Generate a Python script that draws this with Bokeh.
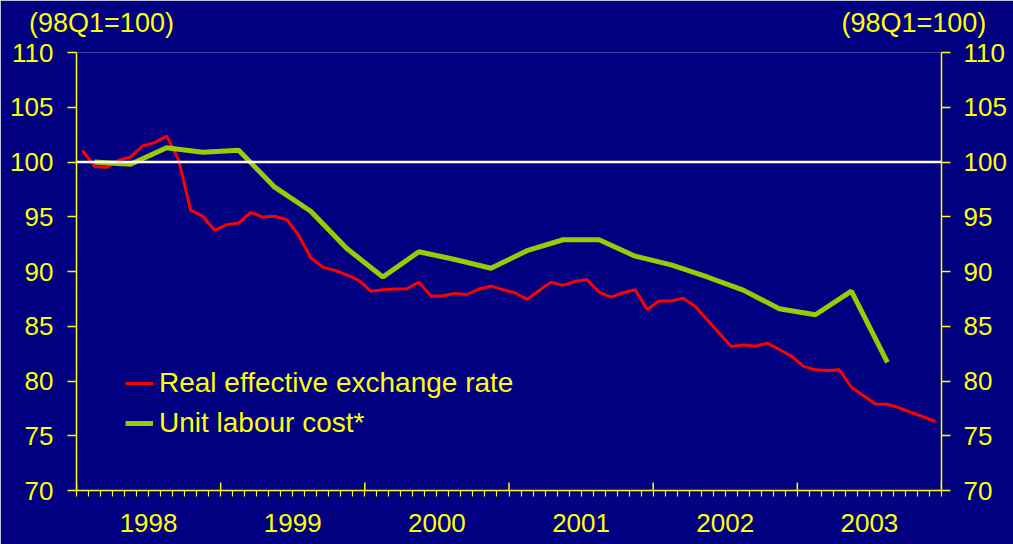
from bokeh.plotting import figure
from bokeh.models import (LinearAxis, FixedTicker, Range1d, Span, Legend,
                          LegendItem, ColumnDataSource, CustomJSTickFormatter)
from bokeh.embed import file_html
from bokeh.resources import INLINE

# ---------------- data ----------------
years = ["1998", "1999", "2000", "2001", "2002", "2003"]
y_ticks = [70, 75, 80, 85, 90, 95, 100, 105, 110]
unit_label = "(98Q1=100)"

# monthly, Jan 1998 .. Dec 2003 (98Q1 = 100)
reer = [101.07, 99.6, 99.5, 100.15, 100.46, 101.46, 101.77, 102.38, 100.2, 95.6, 95.07, 93.76,
        94.28, 94.42, 95.4, 94.97, 95.04, 94.73, 93.3, 91.26, 90.4, 90.1, 89.7, 89.19,
        88.2, 88.33, 88.4, 88.42, 89.03, 87.75, 87.78, 88.0, 87.9, 88.4, 88.67, 88.34,
        88.06, 87.45, 88.27, 89.03, 88.73, 89.1, 89.25, 88.12, 87.66, 88.06, 88.33, 86.53,
        87.3, 87.3, 87.57, 86.8, 85.6, 84.37, 83.15, 83.3, 83.18, 83.46, 82.88, 82.27,
        81.36, 81.02, 80.96, 81.02, 79.43, 78.67, 77.9, 77.88, 77.55, 77.12, 76.73, 76.3]

# quarterly, 1998Q1 .. 2003Q3
ulc = [100.0, 99.8, 101.3, 100.9, 101.07, 97.7, 95.5, 92.1, 89.5, 91.8, 91.1, 90.3,
       91.9, 92.9, 92.9, 91.4, 90.6, 89.5, 88.3, 86.6, 86.05, 88.2, 81.7]

# positions on a month axis (0 = start of Jan 1998), plotted at period mid-points
reer_x = [i + 0.5 for i in range(len(reer))]
ulc_x = [3 * q + 1.5 for q in range(len(ulc))]

NAVY = "#000080"
YELLOW = "#FFFF00"
FONT = "Liberation Sans"
n_months = 12 * len(years)

p = figure(width=1013, height=544, output_backend="svg", toolbar_location=None,
           x_range=Range1d(0, n_months), y_range=Range1d(y_ticks[0], y_ticks[-1]),
           x_axis_type=None, y_axis_type=None,
           min_border_left=76, min_border_right=72, min_border_top=52, min_border_bottom=54,
           background_fill_color=NAVY, border_fill_color=NAVY, outline_line_color=None)
p.grid.visible = False


def yaxis(standoff):
    return LinearAxis(ticker=FixedTicker(ticks=y_ticks, minor_ticks=[]),
                      axis_line_color=YELLOW, axis_line_width=1.5,
                      major_tick_line_color=YELLOW, major_tick_line_width=1.5,
                      major_tick_in=0, major_tick_out=9,
                      minor_tick_line_color=None,
                      major_label_text_color=YELLOW, major_label_text_font=FONT,
                      major_label_text_font_size="26px", major_label_standoff=standoff)


p.add_layout(yaxis(14), "left")
p.add_layout(yaxis(13), "right")

# x axis: year labels at mid-year, monthly minor ticks
bounds = [12 * i for i in range(len(years) + 1)]
months = list(range(n_months + 1))
mids = [12 * i + 6 for i in range(len(years))]
xa = LinearAxis(ticker=FixedTicker(ticks=mids, minor_ticks=months),
                major_label_overrides={m: y for m, y in zip(mids, years)},
                axis_line_color=YELLOW, axis_line_width=1.5,
                major_tick_line_color=None, major_tick_in=0, major_tick_out=8,
                minor_tick_line_color=YELLOW, minor_tick_line_width=1.2,
                minor_tick_in=0, minor_tick_out=6,
                major_label_text_color=YELLOW, major_label_text_font=FONT,
                major_label_text_font_size="26px", major_label_standoff=15)
p.add_layout(xa, "below")

# unit labels above the left and right value axes
ta = LinearAxis(ticker=FixedTicker(ticks=[2.08, 69.7], minor_ticks=[]),
                formatter=CustomJSTickFormatter(args=dict(t=unit_label), code="return t;"),
                axis_line_color=None, major_tick_line_color=None, minor_tick_line_color=None,
                major_tick_in=0, major_tick_out=0,
                major_label_text_color=YELLOW, major_label_text_font=FONT,
                major_label_text_font_size="27px", major_label_standoff=15)
p.add_layout(ta, "above")

# year-boundary ticks reaching into the plot area
tick_len = 0.73  # ~8 px in value units
p.segment(x0=bounds, y0=[y_ticks[0]] * len(bounds), x1=bounds,
          y1=[y_ticks[0] + tick_len] * len(bounds), line_color=YELLOW, line_width=1.5)

src_r = ColumnDataSource(dict(x=reer_x, y=reer))
src_g = ColumnDataSource(dict(x=ulc_x, y=ulc))
r_red = p.line("x", "y", source=src_r, line_color="#FF0000", line_width=3)
r_grn = p.line("x", "y", source=src_g, line_color="#99CC00", line_width=5)

p.add_layout(Span(location=100, dimension="width", line_color="white", line_width=2.5))

legend = Legend(items=[LegendItem(label="Real effective exchange rate", renderers=[r_red]),
                       LegendItem(label="Unit labour cost*", renderers=[r_grn])],
                location=(49, 50), border_line_color=None, background_fill_alpha=0,
                padding=0, margin=0, spacing=6, glyph_width=28, glyph_height=34,
                label_height=34, label_standoff=6,
                label_text_color=YELLOW, label_text_font=FONT, label_text_font_size="28px")
p.add_layout(legend)

open("out.html", "w").write(file_html(p, INLINE))
